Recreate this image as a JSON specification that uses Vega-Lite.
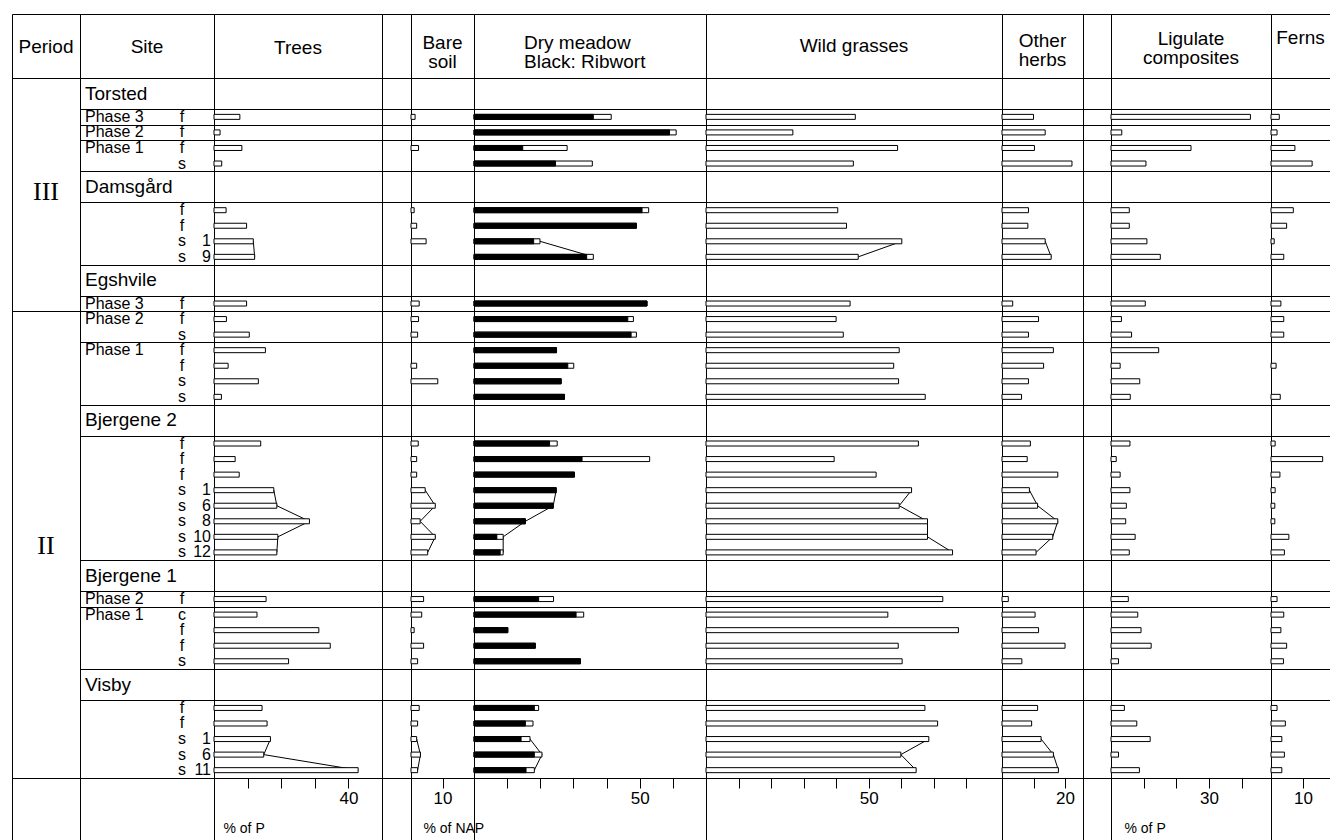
{
"$schema": "https://vega.github.io/schema/vega-lite/v6.json",
"padding": {"left": 11, "top": 13, "right": 0, "bottom": 0},
"autosize": {"type": "pad"},
"background": "white",
"spacing": 0,
"bounds": "flush",
"datasets": {
"periods": [{"period": "III", "row": 6.8}, {"period": "II", "row": 29.6}],
"sites": [
{"site": "Torsted", "row": 0.5}, {"site": "Damsgård", "row": 6.5}, {"site": "Egshvile", "row": 12.5},
{"site": "Bjergene 2", "row": 21.5}, {"site": "Bjergene 1", "row": 31.5}, {"site": "Visby", "row": 38.5}],
"samples": [
{"site":"Torsted","phase":"Phase 3","type":"f","num":null,"row":2,"profile":null,"trees":7.7,"bare":1.3,"dry":41.4,"ribwort":36.0,"grasses":45.9,"herbs":10.0,"ligulate":42.7,"ferns":2.6},
{"site":"Torsted","phase":"Phase 2","type":"f","num":null,"row":3,"profile":null,"trees":1.8,"bare":null,"dry":61.0,"ribwort":59.0,"grasses":26.7,"herbs":13.7,"ligulate":3.3,"ferns":1.9},
{"site":"Torsted","phase":"Phase 1","type":"f","num":null,"row":4,"profile":null,"trees":8.3,"bare":2.4,"dry":28.1,"ribwort":14.7,"grasses":58.9,"herbs":10.3,"ligulate":24.5,"ferns":7.5},
{"site":"Torsted","phase":"Phase 1","type":"s","num":null,"row":5,"profile":null,"trees":2.3,"bare":null,"dry":35.7,"ribwort":24.6,"grasses":45.3,"herbs":22.2,"ligulate":10.7,"ferns":12.9},
{"site":"Damsgård","phase":null,"type":"f","num":null,"row":8,"profile":null,"trees":3.6,"bare":1.0,"dry":52.7,"ribwort":50.7,"grasses":40.5,"herbs":8.4,"ligulate":5.6,"ferns":7.0},
{"site":"Damsgård","phase":null,"type":"f","num":null,"row":9,"profile":null,"trees":9.7,"bare":1.8,"dry":49.0,"ribwort":49.0,"grasses":43.2,"herbs":8.2,"ligulate":5.6,"ferns":4.9},
{"site":"Damsgård","phase":null,"type":"s","num":"1","row":10,"profile":"Damsgård","trees":11.7,"bare":4.8,"dry":19.9,"ribwort":18.0,"grasses":60.2,"herbs":13.7,"ligulate":11.0,"ferns":1.0},
{"site":"Damsgård","phase":null,"type":"s","num":"9","row":11,"profile":"Damsgård","trees":12.1,"bare":null,"dry":36.0,"ribwort":34.0,"grasses":46.8,"herbs":15.6,"ligulate":15.1,"ferns":4.0},
{"site":"Egshvile","phase":"Phase 3","type":"f","num":null,"row":14,"profile":null,"trees":9.7,"bare":2.6,"dry":52.2,"ribwort":52.2,"grasses":44.3,"herbs":3.4,"ligulate":10.5,"ferns":3.1},
{"site":"Egshvile","phase":"Phase 2","type":"f","num":null,"row":15,"profile":null,"trees":3.7,"bare":2.4,"dry":48.1,"ribwort":46.4,"grasses":40.0,"herbs":11.6,"ligulate":3.2,"ferns":4.0},
{"site":"Egshvile","phase":"Phase 2","type":"s","num":null,"row":16,"profile":null,"trees":10.5,"bare":2.1,"dry":49.0,"ribwort":47.4,"grasses":42.2,"herbs":8.4,"ligulate":6.3,"ferns":4.0},
{"site":"Egshvile","phase":"Phase 1","type":"f","num":null,"row":17,"profile":null,"trees":15.3,"bare":null,"dry":24.9,"ribwort":24.9,"grasses":59.4,"herbs":16.3,"ligulate":14.6,"ferns":null},
{"site":"Egshvile","phase":"Phase 1","type":"f","num":null,"row":18,"profile":null,"trees":4.2,"bare":1.8,"dry":30.1,"ribwort":28.3,"grasses":57.7,"herbs":13.2,"ligulate":2.8,"ferns":1.6},
{"site":"Egshvile","phase":"Phase 1","type":"s","num":null,"row":19,"profile":null,"trees":13.2,"bare":8.5,"dry":26.3,"ribwort":26.3,"grasses":59.2,"herbs":8.4,"ligulate":8.8,"ferns":null},
{"site":"Egshvile","phase":"Phase 1","type":"s","num":null,"row":20,"profile":null,"trees":2.2,"bare":null,"dry":27.3,"ribwort":27.3,"grasses":67.4,"herbs":6.2,"ligulate":5.9,"ferns":2.9},
{"site":"Bjergene 2","phase":null,"type":"f","num":null,"row":23,"profile":null,"trees":13.9,"bare":2.3,"dry":25.1,"ribwort":22.8,"grasses":65.3,"herbs":9.0,"ligulate":5.8,"ferns":1.3},
{"site":"Bjergene 2","phase":null,"type":"f","num":null,"row":24,"profile":null,"trees":6.3,"bare":1.8,"dry":53.0,"ribwort":32.6,"grasses":39.4,"herbs":8.0,"ligulate":1.6,"ferns":16.2},
{"site":"Bjergene 2","phase":null,"type":"f","num":null,"row":25,"profile":null,"trees":7.5,"bare":1.8,"dry":30.3,"ribwort":30.3,"grasses":52.3,"herbs":17.7,"ligulate":2.8,"ferns":2.8},
{"site":"Bjergene 2","phase":null,"type":"s","num":"1","row":26,"profile":"Bjergene 2","trees":17.8,"bare":4.5,"dry":24.8,"ribwort":24.8,"grasses":63.2,"herbs":8.7,"ligulate":5.8,"ferns":1.3},
{"site":"Bjergene 2","phase":null,"type":"s","num":"6","row":27,"profile":"Bjergene 2","trees":18.7,"bare":7.7,"dry":23.9,"ribwort":23.9,"grasses":59.4,"herbs":11.3,"ligulate":4.7,"ferns":1.2},
{"site":"Bjergene 2","phase":null,"type":"s","num":"8","row":28,"profile":"Bjergene 2","trees":28.4,"bare":2.9,"dry":15.5,"ribwort":15.5,"grasses":68.1,"herbs":17.7,"ligulate":4.5,"ferns":1.2},
{"site":"Bjergene 2","phase":null,"type":"s","num":"10","row":29,"profile":"Bjergene 2","trees":19.0,"bare":7.7,"dry":8.8,"ribwort":6.9,"grasses":68.1,"herbs":16.1,"ligulate":7.4,"ferns":5.6},
{"site":"Bjergene 2","phase":null,"type":"s","num":"12","row":30,"profile":"Bjergene 2","trees":18.7,"bare":5.3,"dry":8.8,"ribwort":7.9,"grasses":75.8,"herbs":10.8,"ligulate":5.6,"ferns":4.2},
{"site":"Bjergene 1","phase":"Phase 2","type":"f","num":null,"row":33,"profile":null,"trees":15.5,"bare":4.0,"dry":24.0,"ribwort":19.5,"grasses":72.8,"herbs":2.0,"ligulate":5.3,"ferns":1.9},
{"site":"Bjergene 1","phase":"Phase 1","type":"c","num":null,"row":34,"profile":null,"trees":12.8,"bare":3.4,"dry":33.1,"ribwort":30.8,"grasses":55.9,"herbs":10.5,"ligulate":8.2,"ferns":4.0},
{"site":"Bjergene 1","phase":"Phase 1","type":"f","num":null,"row":35,"profile":null,"trees":31.2,"bare":1.0,"dry":10.2,"ribwort":10.2,"grasses":77.6,"herbs":11.6,"ligulate":9.2,"ferns":3.1},
{"site":"Bjergene 1","phase":"Phase 1","type":"f","num":null,"row":36,"profile":null,"trees":34.6,"bare":4.0,"dry":18.5,"ribwort":18.5,"grasses":59.1,"herbs":20.0,"ligulate":12.3,"ferns":4.9},
{"site":"Bjergene 1","phase":"Phase 1","type":"s","num":null,"row":37,"profile":null,"trees":22.2,"bare":2.1,"dry":32.1,"ribwort":32.1,"grasses":60.3,"herbs":6.3,"ligulate":2.3,"ferns":3.9},
{"site":"Visby","phase":null,"type":"f","num":null,"row":40,"profile":null,"trees":14.3,"bare":2.6,"dry":19.5,"ribwort":18.2,"grasses":67.3,"herbs":11.3,"ligulate":4.1,"ferns":1.9},
{"site":"Visby","phase":null,"type":"f","num":null,"row":41,"profile":null,"trees":15.8,"bare":2.1,"dry":17.8,"ribwort":15.5,"grasses":71.2,"herbs":9.4,"ligulate":7.9,"ferns":4.5},
{"site":"Visby","phase":null,"type":"s","num":"1","row":42,"profile":"Visby","trees":16.8,"bare":1.8,"dry":16.9,"ribwort":14.2,"grasses":68.5,"herbs":12.4,"ligulate":12.0,"ferns":3.4},
{"site":"Visby","phase":null,"type":"s","num":"6","row":43,"profile":"Visby","trees":14.8,"bare":3.0,"dry":20.5,"ribwort":18.2,"grasses":59.9,"herbs":16.3,"ligulate":2.3,"ferns":4.2},
{"site":"Visby","phase":null,"type":"s","num":"11","row":44,"profile":"Visby","trees":42.9,"bare":2.1,"dry":18.2,"ribwort":15.7,"grasses":64.6,"herbs":17.9,"ligulate":8.7,"ferns":3.4}
]
},
"hconcat": [
{
"width": 68, "height": 826,
"encoding": {
"y": {"field": "row", "type": "quantitative", "title": null, "scale": {"domain": [-4.613, 48.49], "reverse": true, "nice": false, "zero": false, "padding": 0}, "axis": {"values": [-0.5, 14.5, 44.5]}}
},
"layer": [
{"data": {"values": [{"label": "Period", "row": -2.49}]}, "mark": {"type": "text", "fontSize": 19, "baseline": "middle", "align": "center", "color": "black"}, "encoding": {"text": {"field": "label"}}},
{"data": {"name": "periods"}, "mark": {"type": "text", "font": "Liberation Serif", "fontSize": 26, "baseline": "middle", "align": "center", "color": "black"}, "encoding": {"text": {"field": "period"}}}
]
},
{
"width": 134, "height": 826,
"encoding": {
"y": {"field": "row", "type": "quantitative", "title": null, "scale": {"domain": [-4.613, 48.49], "reverse": true, "nice": false, "zero": false, "padding": 0}, "axis": {"values": [-0.5, 1.5, 2.5, 3.5, 5.5, 7.5, 11.5, 13.5, 14.5, 16.5, 20.5, 22.5, 30.5, 32.5, 33.5, 37.5, 39.5, 44.5]}}
},
"layer": [
{"data": {"values": [{"label": "Site", "row": -2.49}]}, "mark": {"type": "text", "fontSize": 19, "baseline": "middle", "align": "center", "color": "black"}, "encoding": {"text": {"field": "label"}}},
{"data": {"name": "sites"}, "mark": {"type": "text", "align": "left", "baseline": "middle", "fontSize": 19, "dx": 5, "color": "black"}, "encoding": {"x": {"value": 0}, "text": {"field": "site"}}},
{"data": {"name": "samples"}, "transform": [{"filter": "datum.phase != null"}, {"aggregate": [{"op": "min", "field": "row", "as": "row"}], "groupby": ["site", "phase"]}], "mark": {"type": "text", "align": "left", "baseline": "middle", "fontSize": 16, "dx": 5, "color": "black"}, "encoding": {"x": {"value": 0}, "text": {"field": "phase"}}},
{"data": {"name": "samples"}, "mark": {"type": "text", "align": "center", "baseline": "middle", "fontSize": 16, "color": "black"}, "encoding": {"x": {"value": 102}, "text": {"field": "type"}}},
{"data": {"name": "samples"}, "transform": [{"filter": "datum.num != null"}], "mark": {"type": "text", "align": "right", "baseline": "middle", "fontSize": 16, "color": "black"}, "encoding": {"x": {"value": 131}, "text": {"field": "num"}}}
]
},
{
"width": 168, "height": 826,
"encoding": {
"y": {"field": "row", "type": "quantitative", "title": null, "scale": {"domain": [-4.613, 48.49], "reverse": true, "nice": false, "zero": false, "padding": 0}, "axis": {"values": [-0.5, 1.5, 2.5, 3.5, 5.5, 7.5, 11.5, 13.5, 14.5, 16.5, 20.5, 22.5, 30.5, 32.5, 33.5, 37.5, 39.5, 44.5]}}
},
"layer": [
{"data": {"values": [{"label": "Trees", "row": -2.43}]}, "mark": {"type": "text", "fontSize": 19, "baseline": "middle", "align": "center", "color": "black"}, "encoding": {"text": {"field": "label"}}},
{"data": {"name": "samples"}, "transform": [{"filter": "datum.profile != null"}], "mark": {"type": "line", "stroke": "black", "strokeWidth": 1}, "encoding": {"x": {"field": "trees", "type": "quantitative", "scale": {"domain": [0, 50], "nice": false}, "axis": {"values": [10, 20, 30, 40], "labelExpr": "datum.value === 40 ? '40' : ''", "title": "% of P", "titleX": 9}}, "detail": {"field": "profile"}, "order": {"field": "row"}}},
{"data": {"name": "samples"}, "mark": {"type": "bar", "orient": "horizontal", "size": 5, "fill": "white", "stroke": "black", "strokeWidth": 1}, "encoding": {"x": {"field": "trees", "type": "quantitative", "scale": {"domain": [0, 50], "nice": false}, "axis": {"values": [10, 20, 30, 40], "labelExpr": "datum.value === 40 ? '40' : ''", "title": "% of P", "titleX": 9}}}}
]
},
{
"width": 29, "height": 826,
"data": {"name": "samples"},
"mark": {"type": "point", "opacity": 0},
"encoding": {
"y": {"field": "row", "type": "quantitative", "title": null, "scale": {"domain": [-4.613, 48.49], "reverse": true, "nice": false, "zero": false, "padding": 0}, "axis": {"values": [-0.5, 1.5, 2.5, 3.5, 5.5, 7.5, 11.5, 13.5, 14.5, 16.5, 20.5, 22.5, 30.5, 32.5, 33.5, 37.5, 39.5, 44.5]}}
}
},
{
"width": 63, "height": 826,
"encoding": {
"y": {"field": "row", "type": "quantitative", "title": null, "scale": {"domain": [-4.613, 48.49], "reverse": true, "nice": false, "zero": false, "padding": 0}, "axis": {"values": [-0.5, 1.5, 2.5, 3.5, 5.5, 7.5, 11.5, 13.5, 14.5, 16.5, 20.5, 22.5, 30.5, 32.5, 33.5, 37.5, 39.5, 44.5]}}
},
"layer": [
{"data": {"values": [{"label": "Bare\nsoil", "row": -2.75}]}, "mark": {"type": "text", "fontSize": 19, "lineHeight": 19, "lineBreak": "\n", "baseline": "middle", "align": "center", "color": "black"}, "encoding": {"text": {"field": "label"}}},
{"data": {"name": "samples"}, "transform": [{"filter": "datum.profile != null"}], "mark": {"type": "line", "stroke": "black", "strokeWidth": 1}, "encoding": {"x": {"field": "bare", "type": "quantitative", "scale": {"domain": [0, 20], "nice": false}, "axis": {"values": [10], "labelExpr": "datum.value === 10 ? '10' : ''", "title": "% of NAP", "titleX": 12}}, "detail": {"field": "profile"}, "order": {"field": "row"}}},
{"data": {"name": "samples"}, "mark": {"type": "bar", "orient": "horizontal", "size": 5, "fill": "white", "stroke": "black", "strokeWidth": 1}, "encoding": {"x": {"field": "bare", "type": "quantitative", "scale": {"domain": [0, 20], "nice": false}, "axis": {"values": [10], "labelExpr": "datum.value === 10 ? '10' : ''", "title": "% of NAP", "titleX": 12}}}}
]
},
{
"width": 232, "height": 826,
"encoding": {
"y": {"field": "row", "type": "quantitative", "title": null, "scale": {"domain": [-4.613, 48.49], "reverse": true, "nice": false, "zero": false, "padding": 0}, "axis": {"values": [-0.5, 1.5, 2.5, 3.5, 5.5, 7.5, 11.5, 13.5, 14.5, 16.5, 20.5, 22.5, 30.5, 32.5, 33.5, 37.5, 39.5, 44.5]}}
},
"layer": [
{"data": {"values": [{"label": "Dry meadow\nBlack: Ribwort", "row": -2.75}]}, "mark": {"type": "text", "fontSize": 19, "lineHeight": 19, "lineBreak": "\n", "baseline": "middle", "align": "left", "dx": -66, "color": "black"}, "encoding": {"text": {"field": "label"}}},
{"data": {"name": "samples"}, "transform": [{"filter": "datum.profile != null"}], "mark": {"type": "line", "stroke": "black", "strokeWidth": 1}, "encoding": {"x": {"field": "dry", "type": "quantitative", "scale": {"domain": [0, 70], "nice": false}, "axis": {"values": [10, 20, 30, 40, 50, 60], "labelExpr": "datum.value === 50 ? '50' : ''", "title": null}}, "detail": {"field": "profile"}, "order": {"field": "row"}}},
{"data": {"name": "samples"}, "mark": {"type": "bar", "orient": "horizontal", "size": 5, "fill": "white", "stroke": "black", "strokeWidth": 1}, "encoding": {"x": {"field": "dry", "type": "quantitative", "scale": {"domain": [0, 70], "nice": false}, "axis": {"values": [10, 20, 30, 40, 50, 60], "labelExpr": "datum.value === 50 ? '50' : ''", "title": null}}}},
{"data": {"name": "samples"}, "mark": {"type": "bar", "orient": "horizontal", "size": 5, "fill": "black", "stroke": "black", "strokeWidth": 1}, "encoding": {"x": {"field": "ribwort", "type": "quantitative", "scale": {"domain": [0, 70], "nice": false}, "axis": {"values": [10, 20, 30, 40, 50, 60], "labelExpr": "datum.value === 50 ? '50' : ''", "title": null}}}}
]
},
{
"width": 296, "height": 826,
"encoding": {
"y": {"field": "row", "type": "quantitative", "title": null, "scale": {"domain": [-4.613, 48.49], "reverse": true, "nice": false, "zero": false, "padding": 0}, "axis": {"values": [-0.5, 1.5, 2.5, 3.5, 5.5, 7.5, 11.5, 13.5, 14.5, 16.5, 20.5, 22.5, 30.5, 32.5, 33.5, 37.5, 39.5, 44.5]}}
},
"layer": [
{"data": {"values": [{"label": "Wild grasses", "row": -2.56}]}, "mark": {"type": "text", "fontSize": 19, "baseline": "middle", "align": "center", "color": "black"}, "encoding": {"text": {"field": "label"}}},
{"data": {"name": "samples"}, "transform": [{"filter": "datum.profile != null"}], "mark": {"type": "line", "stroke": "black", "strokeWidth": 1}, "encoding": {"x": {"field": "grasses", "type": "quantitative", "scale": {"domain": [0, 91], "nice": false}, "axis": {"values": [10, 20, 30, 40, 50, 60, 70, 80], "labelExpr": "datum.value === 50 ? '50' : ''", "title": null}}, "detail": {"field": "profile"}, "order": {"field": "row"}}},
{"data": {"name": "samples"}, "mark": {"type": "bar", "orient": "horizontal", "size": 5, "fill": "white", "stroke": "black", "strokeWidth": 1}, "encoding": {"x": {"field": "grasses", "type": "quantitative", "scale": {"domain": [0, 91], "nice": false}, "axis": {"values": [10, 20, 30, 40, 50, 60, 70, 80], "labelExpr": "datum.value === 50 ? '50' : ''", "title": null}}}}
]
},
{
"width": 81, "height": 826,
"encoding": {
"y": {"field": "row", "type": "quantitative", "title": null, "scale": {"domain": [-4.613, 48.49], "reverse": true, "nice": false, "zero": false, "padding": 0}, "axis": {"values": [-0.5, 1.5, 2.5, 3.5, 5.5, 7.5, 11.5, 13.5, 14.5, 16.5, 20.5, 22.5, 30.5, 32.5, 33.5, 37.5, 39.5, 44.5]}}
},
"layer": [
{"data": {"values": [{"label": "Other\nherbs", "row": -2.88}]}, "mark": {"type": "text", "fontSize": 19, "lineHeight": 19, "lineBreak": "\n", "baseline": "middle", "align": "center", "color": "black"}, "encoding": {"text": {"field": "label"}}},
{"data": {"name": "samples"}, "transform": [{"filter": "datum.profile != null"}], "mark": {"type": "line", "stroke": "black", "strokeWidth": 1}, "encoding": {"x": {"field": "herbs", "type": "quantitative", "scale": {"domain": [0, 25.7], "nice": false}, "axis": {"values": [10, 20], "labelExpr": "datum.value === 20 ? '20' : ''", "title": null}}, "detail": {"field": "profile"}, "order": {"field": "row"}}},
{"data": {"name": "samples"}, "mark": {"type": "bar", "orient": "horizontal", "size": 5, "fill": "white", "stroke": "black", "strokeWidth": 1}, "encoding": {"x": {"field": "herbs", "type": "quantitative", "scale": {"domain": [0, 25.7], "nice": false}, "axis": {"values": [10, 20], "labelExpr": "datum.value === 20 ? '20' : ''", "title": null}}}}
]
},
{
"width": 28, "height": 826,
"data": {"name": "samples"},
"mark": {"type": "point", "opacity": 0},
"encoding": {
"y": {"field": "row", "type": "quantitative", "title": null, "scale": {"domain": [-4.613, 48.49], "reverse": true, "nice": false, "zero": false, "padding": 0}, "axis": {"values": [-0.5, 1.5, 2.5, 3.5, 5.5, 7.5, 11.5, 13.5, 14.5, 16.5, 20.5, 22.5, 30.5, 32.5, 33.5, 37.5, 39.5, 44.5]}}
}
},
{
"width": 160, "height": 826,
"encoding": {
"y": {"field": "row", "type": "quantitative", "title": null, "scale": {"domain": [-4.613, 48.49], "reverse": true, "nice": false, "zero": false, "padding": 0}, "axis": {"values": [-0.5, 1.5, 2.5, 3.5, 5.5, 7.5, 11.5, 13.5, 14.5, 16.5, 20.5, 22.5, 30.5, 32.5, 33.5, 37.5, 39.5, 44.5]}}
},
"layer": [
{"data": {"values": [{"label": "Ligulate\ncomposites", "row": -3.01}]}, "mark": {"type": "text", "fontSize": 19, "lineHeight": 19, "lineBreak": "\n", "baseline": "middle", "align": "center", "color": "black"}, "encoding": {"text": {"field": "label"}}},
{"data": {"name": "samples"}, "mark": {"type": "bar", "orient": "horizontal", "size": 5, "fill": "white", "stroke": "black", "strokeWidth": 1}, "encoding": {"x": {"field": "ligulate", "type": "quantitative", "scale": {"domain": [0, 49], "nice": false}, "axis": {"values": [10, 20, 30, 40], "labelExpr": "datum.value === 30 ? '30' : ''", "title": "% of P", "titleX": 13}}}}
]
},
{
"width": 59, "height": 826,
"view": {"stroke": null},
"encoding": {
"y": {"field": "row", "type": "quantitative", "title": null, "scale": {"domain": [-4.613, 48.49], "reverse": true, "nice": false, "zero": false, "padding": 0}, "axis": {"values": [-4.613, -0.5, 1.5, 2.5, 3.5, 5.5, 7.5, 11.5, 13.5, 14.5, 16.5, 20.5, 22.5, 30.5, 32.5, 33.5, 37.5, 39.5, 44.5]}}
},
"layer": [
{"data": {"values": [{"label": "Ferns", "row": -3.07}]}, "mark": {"type": "text", "fontSize": 19, "baseline": "middle", "align": "center", "color": "black"}, "encoding": {"text": {"field": "label"}}},
{"data": {"name": "samples"}, "mark": {"type": "bar", "orient": "horizontal", "size": 5, "fill": "white", "stroke": "black", "strokeWidth": 1}, "encoding": {"x": {"field": "ferns", "type": "quantitative", "scale": {"domain": [0, 18.5], "nice": false}, "axis": {"values": [10], "labelExpr": "datum.value === 10 ? '10' : ''", "title": null}}}}
]
}
],
"config": {
"font": "Liberation Sans",
"view": {"stroke": "black", "strokeWidth": 1},
"axisY": {"grid": true, "gridColor": "black", "gridOpacity": 1, "gridWidth": 1, "labels": false, "ticks": false, "domain": false},
"axisX": {"domain": false, "grid": false, "ticks": true, "tickColor": "black", "tickSize": 10, "tickWidth": 1, "labelFont": "Liberation Sans", "labelFontSize": 17, "labelColor": "black", "labelPadding": 2, "labelOverlap": false, "labelFlush": false, "offset": -62, "titleFont": "Liberation Sans", "titleFontSize": 14, "titleFontWeight": "normal", "titleColor": "black", "titleAlign": "left", "titleAnchor": "start", "titleBaseline": "middle", "titleY": 50}
}
}
